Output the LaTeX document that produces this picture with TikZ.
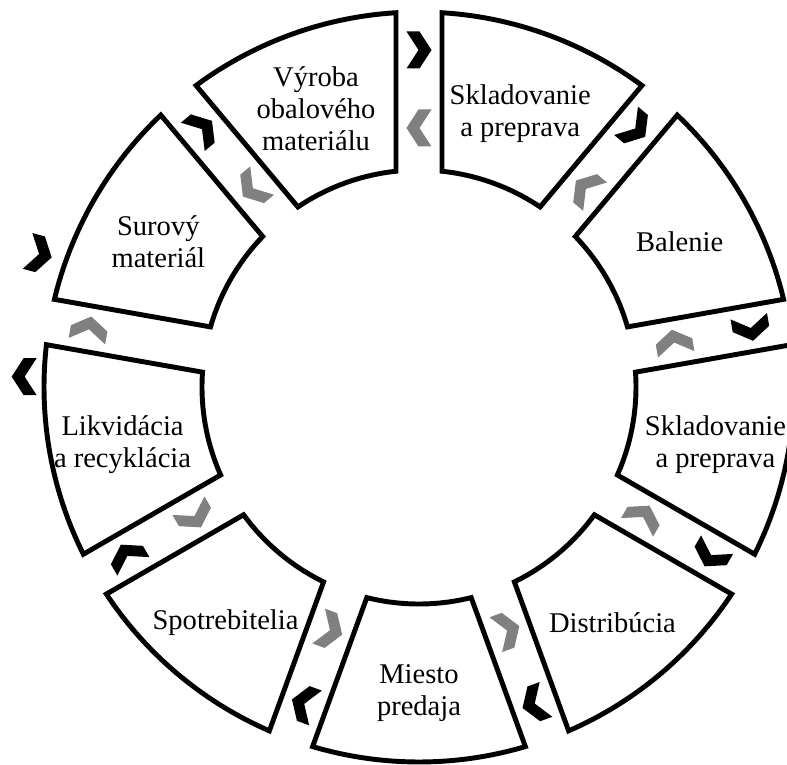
\documentclass[tikz,border=0pt]{standalone}
\usepackage{fontspec}
\setmainfont{Liberation Serif}
\definecolor{chevgray}{RGB}{128,128,128}
\tikzset{
  segment/.style={draw, line width=3.5pt, line join=miter},
  stagetext/.style={align=center, inner sep=0pt, font=\fontsize{20.3}{22.8}\selectfont},
  blackchev/.style={fill=black},
  graychev/.style={fill=chevgray},
  chev/.pic={\fill[pic actions] (-12.5,18.5) -- (0.5,18.5) -- (12.5,0) -- (0.5,-18.5) -- (-12.5,-18.5) -- (-0.5,0) -- cycle;}
}
\begin{document}
\begin{tikzpicture}[x=0.025cm,y=0.025cm]
\useasboundingbox (-419,-377) rectangle (368,387);
\draw[segment] (253.52:375) arc[start angle=253.52, end angle=286.48, radius=375] -- (283.92:217) arc[start angle=283.92, end angle=256.08, radius=217] -- cycle;
\draw[segment] (293.52:375) arc[start angle=293.52, end angle=326.48, radius=375] -- (323.92:217) arc[start angle=323.92, end angle=296.08, radius=217] -- cycle;
\draw[segment] (333.52:375) arc[start angle=333.52, end angle=366.48, radius=375] -- (363.92:217) arc[start angle=363.92, end angle=336.08, radius=217] -- cycle;
\draw[segment] (13.52:375) arc[start angle=13.52, end angle=46.48, radius=375] -- (43.92:217) arc[start angle=43.92, end angle=16.08, radius=217] -- cycle;
\draw[segment] (53.52:375) arc[start angle=53.52, end angle=86.48, radius=375] -- (83.92:217) arc[start angle=83.92, end angle=56.08, radius=217] -- cycle;
\draw[segment] (93.52:375) arc[start angle=93.52, end angle=126.48, radius=375] -- (123.92:217) arc[start angle=123.92, end angle=96.08, radius=217] -- cycle;
\draw[segment] (133.52:375) arc[start angle=133.52, end angle=166.48, radius=375] -- (163.92:217) arc[start angle=163.92, end angle=136.08, radius=217] -- cycle;
\draw[segment] (173.52:375) arc[start angle=173.52, end angle=206.48, radius=375] -- (203.92:217) arc[start angle=203.92, end angle=176.08, radius=217] -- cycle;
\draw[segment] (213.52:375) arc[start angle=213.52, end angle=246.48, radius=375] -- (243.92:217) arc[start angle=243.92, end angle=216.08, radius=217] -- cycle;
\begin{scope}[shift={(0,-5)}]
\node[stagetext] (vyroba) at (110:301) {Výroba\\obalového\\materiálu};
\node[stagetext] (sklad1) at (70:296) {Skladovanie\\a preprava};
\node[stagetext] (balenie) at (30:301) {Balenie};
\node[stagetext] (sklad2) at (350:301) {Skladovanie\\a preprava};
\node[stagetext] (distrib) at (310:301) {Distribúcia};
\node[stagetext] (miesto) at (270:301) {Miesto\\predaja};
\node[stagetext] (spotreb) at (230:301) {Spotrebitelia};
\node[stagetext] (likvid) at (190:301) {Likvidácia\\a recyklácia};
\node[stagetext] (surovy) at (150:301) {Surový\\materiál};
\end{scope}
\pic[blackchev, rotate=0] at (90:337) {chev};
\pic[blackchev, rotate=-40] at (50:337) {chev};
\pic[blackchev, rotate=-80] at (10:337) {chev};
\pic[blackchev, rotate=-120] at (-30:337) {chev};
\pic[blackchev, rotate=-160] at (-70:337) {chev};
\pic[blackchev, rotate=160] at (250:337) {chev};
\pic[blackchev, rotate=120] at (210:337) {chev};
\pic[blackchev, rotate=180] at (178.5:395) {chev};
\pic[blackchev, rotate=-15] at (160.7:402) {chev};
\pic[blackchev, rotate=40] at (130:337) {chev};
\pic[graychev, rotate=180] at (90:259) {chev};
\pic[graychev, rotate=140] at (50:259) {chev};
\pic[graychev, rotate=100] at (10:259) {chev};
\pic[graychev, rotate=60] at (-30:259) {chev};
\pic[graychev, rotate=20] at (-70:259) {chev};
\pic[graychev, rotate=-20] at (250:259) {chev};
\pic[graychev, rotate=-60] at (210:259) {chev};
\pic[graychev, rotate=80] at (170:335) {chev};
\pic[graychev, rotate=220] at (130:259) {chev};
\end{tikzpicture}
\end{document}
